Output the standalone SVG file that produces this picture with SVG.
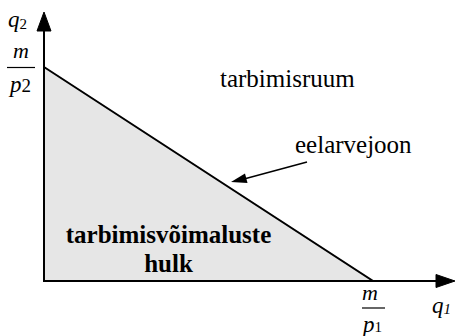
<svg xmlns="http://www.w3.org/2000/svg" width="455" height="336" viewBox="0 0 455 336">
<style>
text{font-family:'Liberation Serif','Times New Roman',serif;fill:#000}
.r{font-size:25px}
.b{font-size:25px;font-weight:bold}
.i{font-style:italic}
.hd{fill:#000;stroke:#000;stroke-width:1}
</style>
<g id="region">
<polygon points="44,67 373,281 44,281" fill="#e6e6e6" stroke="#000" stroke-width="2"/>
</g>
<g id="connectors">
<path d="M44,281 V28" stroke="#000" stroke-width="2" fill="none"/>
<path class="hd" d="M44,12 L51,31 L37,31 Z"/>
<path d="M44,281 H440" stroke="#000" stroke-width="2" fill="none"/>
<path class="hd" d="M455,281 L436,274.5 L436,287.5 Z"/>
<path d="M307,162 L244,179" stroke="#000" stroke-width="1.5" fill="none"/>
<path d="M231,182 L245,173.5 L247.5,183 Z" fill="#000"/>
</g>
<g id="labels">
<text class="i" x="8" y="27" font-size="23">q<tspan font-size="15" font-style="normal" dy="2">2</tspan></text>
<text class="i" x="13" y="58" font-size="22">m</text>
<line x1="7" y1="67.5" x2="35" y2="67.5" stroke="#000" stroke-width="1.2"/>
<text class="i" x="10" y="92" font-size="23">p<tspan font-size="19" font-style="normal">2</tspan></text>
<text class="i" x="362" y="300" font-size="22">m</text>
<line x1="362" y1="308" x2="385" y2="308" stroke="#000" stroke-width="1.2"/>
<text class="i" x="363" y="332" font-size="23">p<tspan font-size="15" font-style="normal">1</tspan></text>
<text class="i" x="432" y="313" font-size="23">q<tspan font-size="15" dy="1">1</tspan></text>
<text class="r" x="220" y="87">tarbimisruum</text>
<text class="r" x="295" y="153">eelarvejoon</text>
<text class="b" x="168.5" y="243" text-anchor="middle">tarbimisvõimaluste</text>
<text class="b" x="168.5" y="272" text-anchor="middle">hulk</text>
</g>
</svg>
